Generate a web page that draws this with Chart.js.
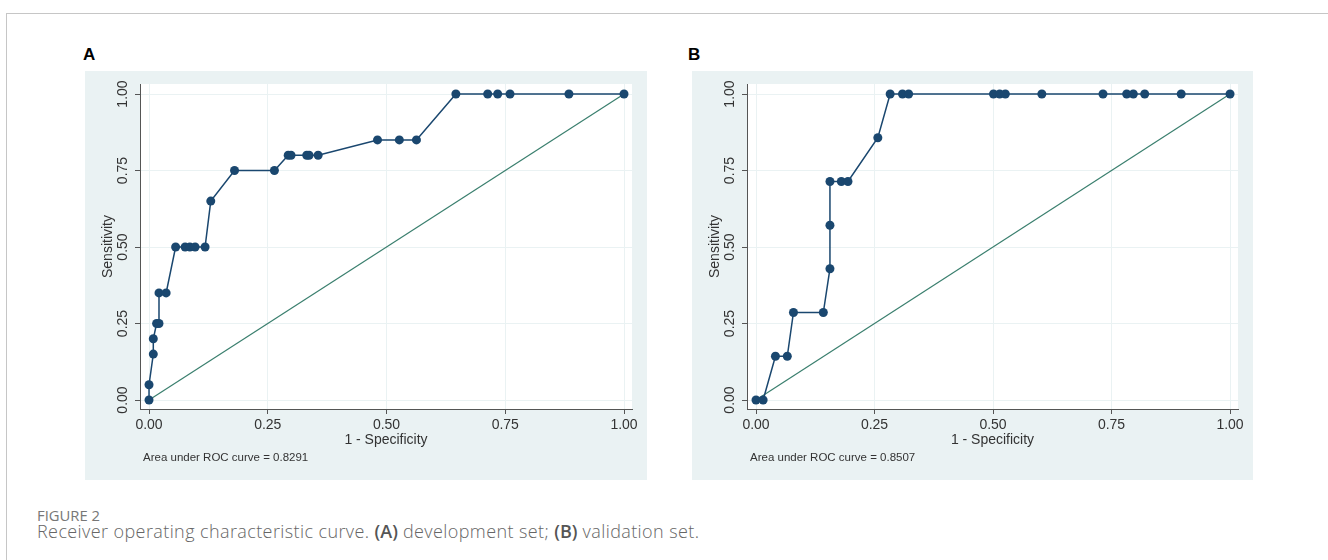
<!DOCTYPE html>
<html>
<head>
<meta charset="utf-8">
<script src="https://cdn.jsdelivr.net/npm/chart.js@4.4.1/dist/chart.umd.min.js"></script>
<style>
    body { margin: 0; background: #fff; width: 1328px; height: 560px; overflow: hidden; position: relative; font-family: "Liberation Sans", Arial, sans-serif; }
    .frame { position: absolute; left: 6px; top: 13px; right: -2px; bottom: -2px; border-top: 1px solid #c6c6c6; border-left: 1px solid #c6c6c6; }
    .panel { position: absolute; top: 71px; width: 562px; height: 409px; background: #eaf2f3; }
    .tag { position: absolute; top: 45px; font: bold 17px "Liberation Sans", Arial, sans-serif; color: #000; }
    .fig { position: absolute; left: 37px; top: 505px; font: 14.8px "Open Sans", sans-serif; color: #777; line-height: 20px; }
    .cap { position: absolute; left: 37px; top: 519px; font: 300 18px "Open Sans", sans-serif; color: #666; white-space: nowrap; line-height: 24px; letter-spacing: 0.4px; }
    .cap b { font-weight: 600; color: #555; letter-spacing: 0; }
</style>
</head>
<body>
<div class="frame"></div>
<div class="tag" style="left:83px">A</div>
<div class="tag" style="left:688px">B</div>
<div class="panel" style="left:85px"><canvas id="rocA"></canvas></div>
<div class="panel" style="left:692px; width:561px"><canvas id="rocB"></canvas></div>
<div class="fig">FIGURE 2</div>
<div class="cap">Receiver operating characteristic curve. <b>(A)</b> development set; <b>(B)</b> validation set.</div>

<script>
// development set (A)
const devFpr = [0, 0, 0.009, 0.009, 0.016, 0.021, 0.021, 0.036, 0.056, 0.076, 0.086, 0.097, 0.118, 0.130, 0.180,
    0.264, 0.293, 0.299, 0.332, 0.337, 0.356, 0.481, 0.527, 0.563, 0.646, 0.713, 0.734, 0.760, 0.884, 1.0];
const devTpr = [0, 0.05, 0.15, 0.20, 0.25, 0.25, 0.35, 0.35, 0.50, 0.50, 0.50, 0.50, 0.50, 0.65, 0.75,
    0.75, 0.80, 0.80, 0.80, 0.80, 0.80, 0.85, 0.85, 0.85, 1, 1, 1, 1, 1, 1];

// validation set (B)
const valFpr = [0, 0.015, 0.041, 0.066, 0.079, 0.142, 0.156, 0.156, 0.156, 0.180, 0.194, 0.257, 0.283,
    0.309, 0.322, 0.501, 0.514, 0.526, 0.603, 0.732, 0.782, 0.796, 0.820, 0.897, 1.0];
const valTpr = [0, 0, 0.143, 0.143, 0.286, 0.286, 0.429, 0.571, 0.714, 0.714, 0.714, 0.857, 1,
    1, 1, 1, 1, 1, 1, 1, 1, 1, 1, 1, 1];

const refLine = [0, 1];
const tickVals = [0, 0.25, 0.5, 0.75, 1];
const aucA = 'Area under ROC curve = 0.8291';
const aucB = 'Area under ROC curve = 0.8507';

const FONT = '"Liberation Sans", Arial, sans-serif';

// white plot region, rotated y tick labels like Stata, and the AUC note
const stataText = {
    id: 'stataText',
    beforeDraw(chart) {
        const a = chart.chartArea;
        const ctx = chart.ctx;
        ctx.save();
        ctx.fillStyle = '#fff';
        ctx.fillRect(a.left, a.top, a.right - a.left, a.bottom - a.top);
        ctx.restore();
    },
    afterDraw(chart, args, opts) {
        const ctx = chart.ctx;
        const y = chart.scales.y;
        ctx.save();
        ctx.fillStyle = '#333';
        ctx.font = '14px ' + FONT;
        ctx.textAlign = 'center';
        ctx.textBaseline = 'middle';
        y.ticks.forEach(t => {
            ctx.save();
            ctx.translate(38, y.getPixelForValue(t.value));
            ctx.rotate(-Math.PI / 2);
            ctx.fillText(t.value.toFixed(2), 0, 0);
            ctx.restore();
        });
        ctx.font = '11.5px ' + FONT;
        ctx.textAlign = 'left';
        ctx.fillText(opts.note, 58, 387);
        ctx.restore();
    }
};

function renderRoc(canvasId, fpr, tpr, note) {
    const ctx = document.getElementById(canvasId).getContext('2d');
    const axisGrid = {
        color: '#eaf2f3',
        lineWidth: 1,
        tickColor: '#555',
        tickLength: 5
    };
    new Chart(ctx, {
        type: 'scatter',
        data: {
            datasets: [{
                data: fpr.map((x, i) => ({ x: x, y: tpr[i] })),
                showLine: true,
                borderColor: '#1a476f',
                backgroundColor: '#1a476f',
                borderWidth: 1.5,
                pointRadius: 4.5,
                pointBorderWidth: 0,
                tension: 0
            }, {
                data: refLine.map(v => ({ x: v, y: v })),
                showLine: true,
                borderColor: '#3a7f6e',
                borderWidth: 1.2,
                pointRadius: 0
            }]
        },
        options: {
            responsive: true,
            maintainAspectRatio: false,
            animation: false,
            events: [],
            layout: { padding: { left: 0, top: 13, right: 15, bottom: 0 } },
            plugins: {
                legend: { display: false },
                tooltip: { enabled: false },
                stataText: { note: note }
            },
            scales: {
                x: {
                    type: 'linear',
                    min: -0.019,
                    max: 1.0168,
                    afterBuildTicks: s => { s.ticks = tickVals.map(v => ({ value: v })); },
                    afterFit: s => { s.height = 71; },
                    grid: axisGrid,
                    border: { display: true, color: '#555', width: 1 },
                    ticks: {
                        autoSkip: false,
                        maxRotation: 0,
                        padding: 3,
                        color: '#333',
                        font: { family: FONT, size: 14 },
                        callback: v => v.toFixed(2)
                    },
                    title: {
                        display: true,
                        text: '1 - Specificity',
                        color: '#333',
                        font: { family: FONT, size: 14 },
                        padding: { top: 0, bottom: 31 }
                    }
                },
                y: {
                    type: 'linear',
                    min: -0.0294,
                    max: 1.0327,
                    afterBuildTicks: s => { s.ticks = tickVals.map(v => ({ value: v })); },
                    afterFit: s => { s.width = 55; },
                    grid: axisGrid,
                    border: { display: true, color: '#555', width: 1 },
                    ticks: { display: false },
                    title: {
                        display: true,
                        text: 'Sensitivity',
                        color: '#333',
                        font: { family: FONT, size: 14 },
                        padding: { top: 15, bottom: 0 }
                    }
                }
            }
        },
        plugins: [stataText]
    });
}

renderRoc('rocA', devFpr, devTpr, aucA);
renderRoc('rocB', valFpr, valTpr, aucB);
</script>
</body>
</html>
